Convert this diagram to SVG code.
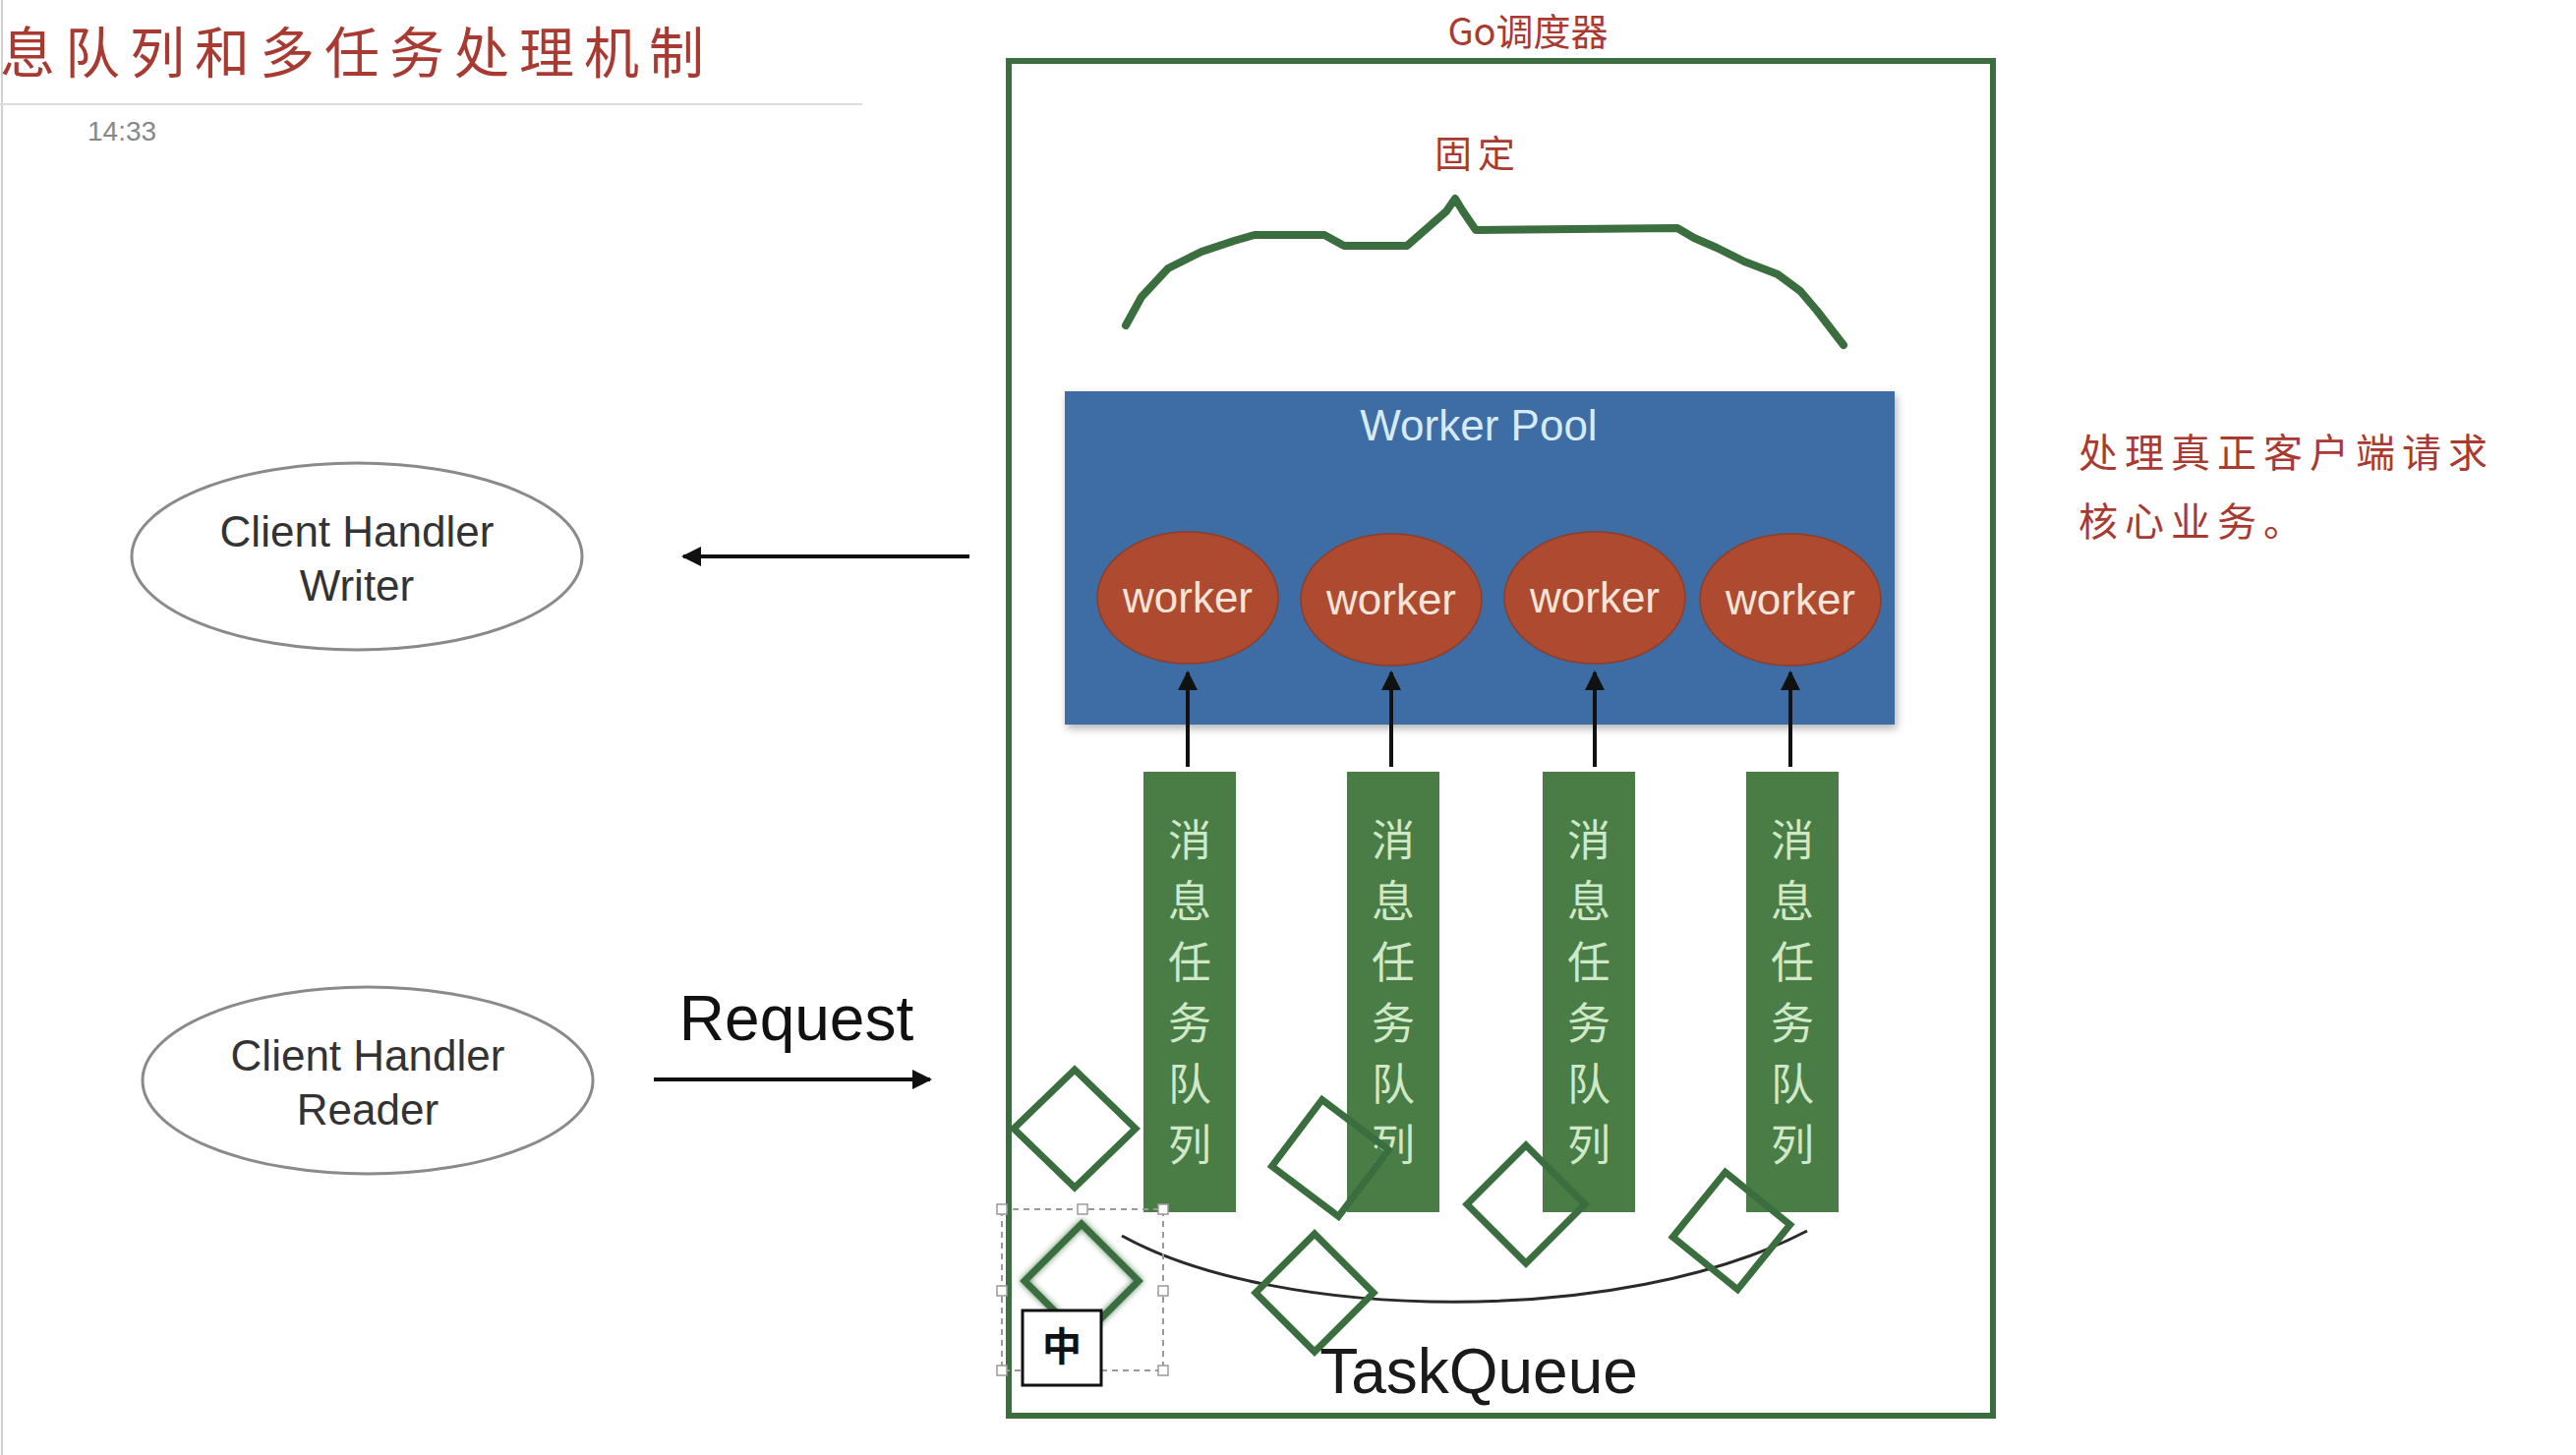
<svg xmlns="http://www.w3.org/2000/svg" width="2620" height="1480" viewBox="0 0 2620 1480">
<style>
.red{fill:#a83a32;font-family:"Noto Sans CJK SC",sans-serif}
.lat{font-family:"Liberation Sans",Arial,sans-serif}
.frame{fill:none;stroke:#3b6e3f;stroke-width:6}
.dia{fill:none;stroke:#3b6e3f;stroke-width:7;stroke-linejoin:miter}
.wk{fill:#ad4a2f;stroke:#8e3d28;stroke-width:1.5}
.wkt{fill:#f6e4d8;font-size:44px;text-anchor:middle}
.q{fill:#4a7c45}
.qt{fill:#cfe9c8;font-size:44px;text-anchor:middle;font-family:"Noto Sans CJK SC",sans-serif}
.ell{fill:#fff;stroke:#8a8a8a;stroke-width:3}
.et{fill:#333;font-size:44px;text-anchor:middle}
.arr{stroke:#111;stroke-width:4;fill:none}
.h{fill:#fff;stroke:#999;stroke-width:1.5}
</style>
<defs>
<marker id="ah" viewBox="0 0 10 10" refX="9" refY="5" markerWidth="5" markerHeight="5" orient="auto">
<path d="M0,0 L10,5 L0,10 z" fill="#111"/>
</marker>
<filter id="blur" x="-30%" y="-30%" width="160%" height="160%"><feGaussianBlur stdDeviation="3"/></filter>
<filter id="sh" x="-10%" y="-10%" width="120%" height="120%"><feDropShadow dx="2" dy="4" stdDeviation="4" flood-opacity="0.3"/></filter>
</defs>
<rect width="2620" height="1480" fill="#fff"/>
<line x1="2" y1="0" x2="2" y2="1480" stroke="#d0d0d0" stroke-width="2"/>

<g id="title">
<text class="red" x="0" y="74" font-size="56" letter-spacing="10">息队列和多任务处理机制</text>
<line x1="0" y1="106" x2="877" y2="106" stroke="#ddd" stroke-width="2"/>
<text class="lat" x="89" y="143" font-size="28" fill="#888">14:33</text>
</g>

<g id="scheduler">
<text class="red" x="1554" y="46" font-size="38" text-anchor="middle">Go调度器</text>
<rect class="frame" x="1026" y="62" width="1001" height="1378"/>
</g>

<g id="fixed">
<text class="red" x="1503" y="170" font-size="38" text-anchor="middle" letter-spacing="6">固定</text>
<polyline points="1145,331 1161,302 1188,273 1222,256 1255,245 1276,239 1347,239 1367,250 1431,250 1471,215 1480,202 1488,215 1501,234 1706,232 1723,242 1746,252 1774,266 1808,279 1831,296 1848,316 1875,351" fill="none" stroke="#3b6e3f" stroke-width="8" stroke-linejoin="round" stroke-linecap="round"/>
</g>

<g id="note">
<text class="red" x="2114" y="475" font-size="40" letter-spacing="7">处理真正客户端请求</text>
<text class="red" x="2114" y="545" font-size="40" letter-spacing="7">核心业务。</text>
</g>

<g id="worker-pool">
<rect x="1083" y="398" width="844" height="339" fill="#3e6da4" filter="url(#sh)"/>
<text class="lat" x="1504" y="448" font-size="44" fill="#d6eaf8" text-anchor="middle">Worker Pool</text>
</g>
<g id="worker1"><ellipse class="wk" cx="1208" cy="608" rx="92" ry="67"/><text class="lat wkt" x="1208" y="623">worker</text></g>
<g id="worker2"><ellipse class="wk" cx="1415" cy="610" rx="92" ry="67"/><text class="lat wkt" x="1415" y="625">worker</text></g>
<g id="worker3"><ellipse class="wk" cx="1622" cy="608" rx="92" ry="67"/><text class="lat wkt" x="1622" y="623">worker</text></g>
<g id="worker4"><ellipse class="wk" cx="1821" cy="610" rx="92" ry="67"/><text class="lat wkt" x="1821" y="625">worker</text></g>

<g id="queue1"><rect class="q" x="1163" y="785" width="94" height="448"/>
<text class="qt"><tspan x="1210" y="871">消</tspan><tspan x="1210" y="933">息</tspan><tspan x="1210" y="995">任</tspan><tspan x="1210" y="1057">务</tspan><tspan x="1210" y="1119">队</tspan><tspan x="1210" y="1181">列</tspan></text></g>
<g id="queue2"><rect class="q" x="1370" y="785" width="94" height="448"/>
<text class="qt"><tspan x="1417" y="871">消</tspan><tspan x="1417" y="933">息</tspan><tspan x="1417" y="995">任</tspan><tspan x="1417" y="1057">务</tspan><tspan x="1417" y="1119">队</tspan><tspan x="1417" y="1181">列</tspan></text></g>
<g id="queue3"><rect class="q" x="1569" y="785" width="94" height="448"/>
<text class="qt"><tspan x="1616" y="871">消</tspan><tspan x="1616" y="933">息</tspan><tspan x="1616" y="995">任</tspan><tspan x="1616" y="1057">务</tspan><tspan x="1616" y="1119">队</tspan><tspan x="1616" y="1181">列</tspan></text></g>
<g id="queue4"><rect class="q" x="1776" y="785" width="94" height="448"/>
<text class="qt"><tspan x="1823" y="871">消</tspan><tspan x="1823" y="933">息</tspan><tspan x="1823" y="995">任</tspan><tspan x="1823" y="1057">务</tspan><tspan x="1823" y="1119">队</tspan><tspan x="1823" y="1181">列</tspan></text></g>

<g id="client-writer"><ellipse class="ell" cx="363" cy="566" rx="229" ry="95"/>
<text class="lat et" x="363" y="556">Client Handler</text><text class="lat et" x="363" y="611">Writer</text></g>
<g id="client-reader"><ellipse class="ell" cx="374" cy="1099" rx="229" ry="95"/>
<text class="lat et" x="374" y="1089">Client Handler</text><text class="lat et" x="374" y="1144">Reader</text></g>

<g id="connectors">
<line class="arr" x1="986" y1="566" x2="695" y2="566" marker-end="url(#ah)"/>
<line class="arr" x1="665" y1="1098" x2="946" y2="1098" marker-end="url(#ah)"/>
<line class="arr" x1="1208" y1="780" x2="1208" y2="684" marker-end="url(#ah)"/>
<line class="arr" x1="1415" y1="780" x2="1415" y2="684" marker-end="url(#ah)"/>
<line class="arr" x1="1622" y1="780" x2="1622" y2="684" marker-end="url(#ah)"/>
<line class="arr" x1="1821" y1="780" x2="1821" y2="684" marker-end="url(#ah)"/>
<path d="M1141,1257 C1300,1345 1650,1350 1838,1252" fill="none" stroke="#2a2a2a" stroke-width="3"/>
</g>
<text class="lat" x="810" y="1058" font-size="64" fill="#111" text-anchor="middle">Request</text>

<g id="tasks">
<polygon class="dia" points="1093,1088 1155,1148 1093,1208 1031,1148"/>
<polygon class="dia" transform="rotate(-8 1353 1178)" points="1353,1118 1413,1178 1353,1238 1293,1178"/>
<polygon class="dia" points="1552,1165 1612,1225 1552,1285 1492,1225"/>
<polygon class="dia" transform="rotate(-6 1761 1252)" points="1761,1192 1821,1252 1761,1312 1701,1252"/>
<polygon class="dia" points="1337,1255 1397,1315 1337,1375 1277,1315"/>
<polygon class="dia" points="1100,1245 1158,1303 1100,1361 1042,1303" filter="url(#blur)" opacity="0.8"/>
<polygon class="dia" points="1100,1245 1158,1303 1100,1361 1042,1303" stroke-width="5"/>
</g>

<g id="selection">
<rect x="1019" y="1230" width="164" height="164" fill="none" stroke="#999" stroke-width="2" stroke-dasharray="6,5"/>
<rect class="h" x="1014" y="1225" width="10" height="10"/><rect class="h" x="1096" y="1225" width="10" height="10"/><rect class="h" x="1178" y="1225" width="10" height="10"/>
<rect class="h" x="1014" y="1308" width="10" height="10"/><rect class="h" x="1178" y="1308" width="10" height="10"/>
<rect class="h" x="1014" y="1389" width="10" height="10"/><rect class="h" x="1178" y="1389" width="10" height="10"/>
<rect x="1040" y="1333" width="80" height="76" fill="#fff" stroke="#111" stroke-width="3"/>
<text x="1080" y="1384" font-size="40" font-weight="bold" text-anchor="middle" font-family="Noto Sans CJK SC, sans-serif" fill="#111">中</text>
</g>

<text class="lat" x="1504" y="1417" font-size="64" fill="#1a1a1a" text-anchor="middle">TaskQueue</text>
</svg>
